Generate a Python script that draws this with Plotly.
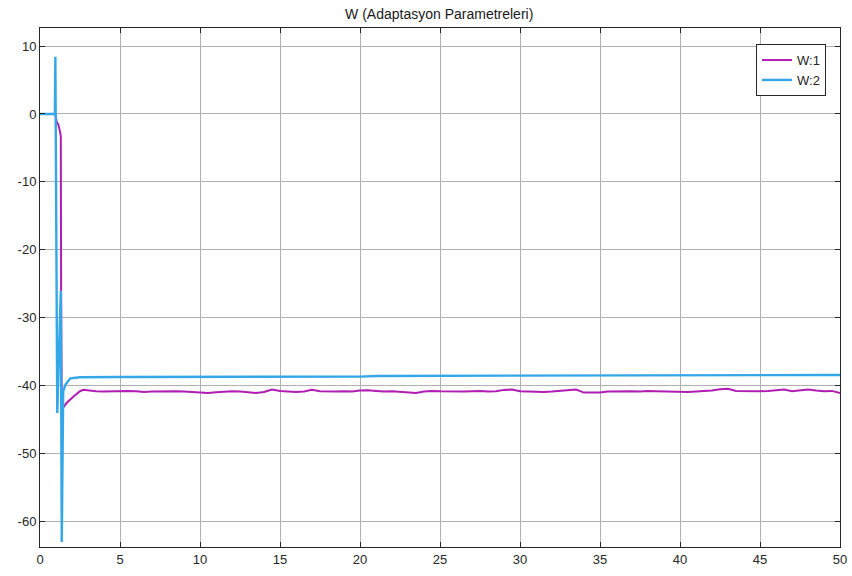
import plotly.graph_objects as go

# ---- data ----
w2_t = [0, 0.93, 0.96, 1.08, 1.30, 1.36, 1.45, 1.60, 1.90, 2.5, 5, 10, 20, 21, 30, 40, 50]
w2_v = [0, 0, 8.4, -44, -26, -63, -40.8, -39.8, -38.9, -38.75, -38.7, -38.7, -38.65, -38.55, -38.5, -38.45, -38.4]

w1_t_start = [0, 0.95, 1.05, 1.15, 1.25, 1.30, 1.32, 1.36, 1.45, 1.67, 2.08, 2.5, 2.7]
w1_v_start = [0, 0, -1.2, -1.6, -2.6, -3.3, -26, -43.5, -43.2, -42.5, -41.6, -40.8, -40.6]

w1_t_tail = [3.0 + 0.5 * i for i in range(95)]
w1_v_tail = [
    -40.7, -40.8, -40.85, -40.8, -40.85, -40.75, -40.8, -40.9, -40.85, -40.8,
    -40.85, -40.8, -40.85, -40.9, -41.0, -41.05, -40.95, -40.85, -40.8, -40.85,
    -40.95, -41.05, -40.9, -40.55, -40.75, -40.85, -40.9, -40.85, -40.6, -40.8,
    -40.85, -40.85, -40.8, -40.85, -40.7, -40.65, -40.75, -40.85, -40.8, -40.85,
    -40.95, -41.05, -40.85, -40.75, -40.8, -40.85, -40.8, -40.85, -40.8, -40.75,
    -40.85, -40.8, -40.6, -40.55, -40.8, -40.85, -40.8, -40.9, -40.85, -40.75,
    -40.6, -40.55, -41.0, -41.05, -41.0, -40.85, -40.8, -40.75, -40.8, -40.85,
    -40.75, -40.8, -40.85, -40.8, -40.85, -40.9, -40.85, -40.8, -40.7, -40.5,
    -40.45, -40.75, -40.8, -40.85, -40.8, -40.75, -40.7, -40.55, -40.8, -40.7,
    -40.55, -40.7, -40.8, -40.75, -41.05,
]

w1_t = w1_t_start + w1_t_tail
w1_v = w1_v_start + w1_v_tail

x_ticks = [0, 5, 10, 15, 20, 25, 30, 35, 40, 45, 50]
y_ticks = [10, 0, -10, -20, -30, -40, -50, -60]
x_labels = [str(v) for v in x_ticks]
y_labels = [str(v) for v in y_ticks]  # plain hyphen-minus like the reference

title_text = "W (Adaptasyon Parametreleri)"
names = ["W:1", "W:2"]

MAGENTA = "#b11db3"
BLUE = "#33a7e8"
FONT = "Liberation Sans, Arial, sans-serif"

fig = go.Figure()
fig.add_trace(go.Scatter(x=w1_t, y=w1_v, mode="lines", name=names[0],
                         line=dict(color=MAGENTA, width=2)))
fig.add_trace(go.Scatter(x=w2_t, y=w2_v, mode="lines", name=names[1],
                         line=dict(color=BLUE, width=2.4)))

axis_common = dict(
    showline=True, linecolor="#262626", linewidth=1, mirror="ticks",
    ticks="inside", ticklen=5, tickcolor="#262626", tickwidth=1,
    showgrid=True, gridcolor="#b0b0b0", gridwidth=1,
    zeroline=False, automargin=False,
    tickfont=dict(family=FONT, size=13, color="#262626"),
)

fig.update_xaxes(range=[0, 50], tickvals=x_ticks, ticktext=x_labels, **axis_common)
fig.update_yaxes(range=[-63.72, 12.65], tickvals=y_ticks, ticktext=y_labels, **axis_common)

fig.update_layout(
    width=852, height=576,
    margin=dict(l=40, r=12, t=28, b=29, autoexpand=False),
    paper_bgcolor="white", plot_bgcolor="white",
    title=dict(text=title_text, x=0.5155, xanchor="center", y=0.976, yanchor="middle",
               font=dict(family=FONT, size=14, color="#1a1a1a")),
    legend=dict(x=0.9825, xanchor="right", y=0.969, yanchor="top",
                bgcolor="white", bordercolor="#262626", borderwidth=1,
                font=dict(family=FONT, size=13, color="#262626"),
                tracegroupgap=0, itemwidth=30),
    showlegend=True,
)

fig.write_html("out.html")
